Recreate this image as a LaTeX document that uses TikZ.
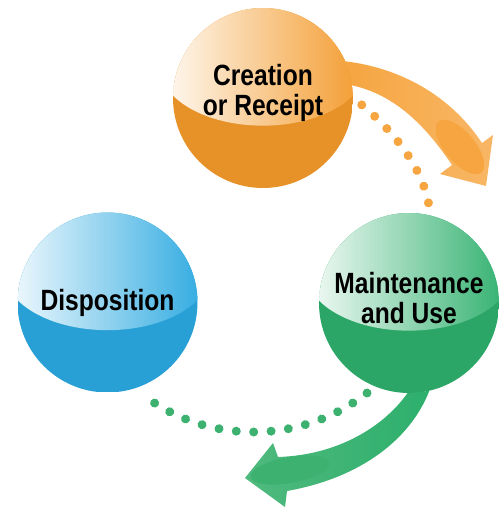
\documentclass[tikz,border=0pt]{standalone}
\usepackage{fontspec}
\newfontfamily\ballfont[FakeStretch=0.84]{Liberation Sans}
\usetikzlibrary{calc,backgrounds,decorations.markings}

\definecolor{createorange}{HTML}{F39A2B}
\definecolor{maintgreen}{HTML}{2DAF6C}
\definecolor{dispblue}{HTML}{2AA8E0}
\definecolor{arroworange}{HTML}{F6A540}
\definecolor{arrowgreen}{HTML}{3DB270}

\begin{document}
\begin{tikzpicture}[
    ball/.style={circle,
    minimum size = 5.4cm,
    inner sep = 0pt,
    path picture = {
        \fill[#1!95!black] (path picture bounding box.south west) rectangle (path picture bounding box.north east);
        \shade[left color=#1!4!white, middle color=#1!97!white, right color=#1]
        ([yshift=0.95cm]path picture bounding box.center) ellipse [x radius=3.1cm, y radius=1.78cm];
    }},
    balltext/.style={align = center,
    font = \ballfont\bfseries\fontsize{25}{25}\selectfont},
    dotline/.style 2 args={decoration={markings,
    mark=between positions 0 and 1 step #1 with {\fill[#2] circle [radius=0.135cm];}},
    decorate}
    ]
    \useasboundingbox (0,0) rectangle (15.03,15.24);

    % the three stages
    \node[ball=createorange,
    label={[balltext, yshift=0.15cm]center:Creation\\or Receipt}] (create) at (7.89,12.30) {};
    \node[ball=maintgreen,
    label={[balltext, yshift=0.15cm]center:Maintenance\\and Use}] (maint) at (12.27,6.15) {};
    \node[ball=dispblue,
    label={[balltext]center:Disposition}] (disp) at (3.225,6.165) {};

    % block arrows behind the balls
    \begin{scope}[on background layer]
        \begin{scope}
            \clip (create.24) .. controls (12.00,13.20) and (13.50,12.39) .. (14.46,10.95)
            -- (14.79,11.19) -- (14.58,9.66) -- (13.20,10.02) -- (13.56,10.29)
            .. controls (12.75,11.49) and (11.85,12.39) .. (create.8) -- cycle;
            \shade[left color=arroworange, middle color=arroworange!55!white, right color=arroworange!80!white]
            (10.2,9.5) rectangle (14.9,13.6);
            \fill[arroworange, rotate around={-50:(13.80,10.83)}] (13.80,10.83) ellipse [x radius=1.0cm, y radius=0.45cm];
        \end{scope}
        \begin{scope}
            \clip (maint.-91) .. controls (11.55,2.49) and (10.20,1.59) .. (8.34,1.53)
            -- (8.19,1.95) -- (7.35,0.90) -- (8.55,0.03) -- (8.61,0.51)
            .. controls (10.80,0.90) and (12.30,2.04) .. (maint.-77) -- cycle;
            \shade[left color=arrowgreen!90!white, middle color=arrowgreen!50!white, right color=maintgreen]
            (7.3,0) rectangle (12.9,3.6);
            \fill[arrowgreen, rotate around={10:(8.70,1.14)}] (8.70,1.14) ellipse [x radius=1.2cm, y radius=0.39cm];
        \end{scope}
    \end{scope}

    % dotted links
    \path[dotline={0.1428}{arroworange}] ($(create)+(-4:2.97)$)
    .. controls (11.55,11.52) and (12.60,10.44) .. ($(maint)+(79:3.06)$);
    \path[dotline={0.07142}{arrowgreen}] ($(maint)+(-115:2.98)$)
    .. controls (9.00,1.89) and (6.21,1.89) .. ($(disp)+(-70:2.89)$);

\end{tikzpicture}
\end{document}
